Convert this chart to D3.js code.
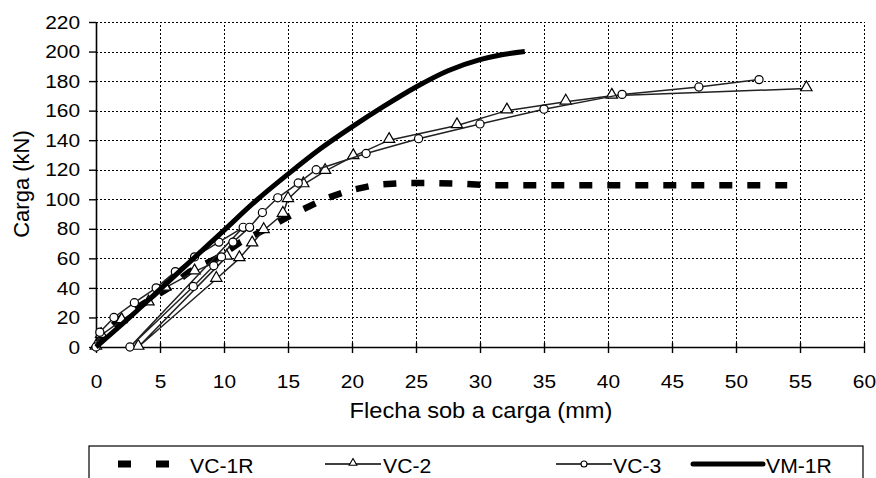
<!DOCTYPE html>
<html>
<head>
<meta charset="utf-8">
<script src="https://cdn.jsdelivr.net/npm/d3@7"></script>
<style>
  body { margin: 0; background: #fff; }
  svg { display: block; font-family: "Liberation Sans", Arial, sans-serif; }
</style>
</head>
<body>
<div id="chart"></div>
<script>
// tick labels
var xTicks = [0, 5, 10, 15, 20, 25, 30, 35, 40, 45, 50, 55, 60];
var yTicks = [0, 20, 40, 60, 80, 100, 120, 140, 160, 180, 200, 220];

// series [flecha mm, carga kN]
var vc1r = [[0,0],[0.6,9],[2,20],[4,31],[5.7,40],[7.3,51],[9.4,60],[11.3,71],[13.3,80],[15.4,90],
  [17.8,100],[19.8,106],[22,110],[24,111],[26,111],[28.5,110.5],[31,109.5],[35,109.5],[40,109.5],
  [45,109.5],[50,109.5],[54,109.5]];

var vc2 = [[0,0],[0.4,8],[2,18],[4.1,30],[5.4,40],[7.7,51],[10.2,61],[3.3,0],[9.4,46],[11.2,60],
  [12.2,70],[13.1,79],[14.6,90],[15,100],[16.2,110],[17.9,119],[20.1,129],[22.9,140],[28.2,150],
  [32.1,160],[36.7,166],[40.3,170],[55.5,175]];

var vc3 = [[0,0],[0.3,10],[1.4,20],[3,30],[4.7,40],[6.2,51],[7.7,61],[9.6,71],[11.5,81],[2.65,0],
  [7.6,41],[9.2,55],[9.8,61],[10.7,71],[12,81],[13,91],[14.2,101],[15.8,111],[17.2,120],[21.1,131],
  [25.2,141],[30,151],[35,161],[41.1,171],[47.1,176],[51.8,181]];

var vm1r = [[0,0],[2.5,19],[5,39],[7.5,59],[10,79],[12.5,99],[15,117],[17.5,134],[20,149],
  [22.5,163],[25,176],[27.5,187],[30,194.5],[31.6,197.7],[33.5,200]];

var legendNames = ["VC-1R", "VC-2", "VC-3", "VM-1R"];

var svgWidth = 876, svgHeight = 478;

var svg = d3.select("#chart").append("svg")
  .attr("width", svgWidth)
  .attr("height", svgHeight);

var x = d3.scaleLinear().domain([0, 60]).range([96, 864]);
var y = d3.scaleLinear().domain([0, 220]).range([347, 22]);

// dotted grid
svg.append("g").selectAll("line")
  .data(yTicks.slice(1))
  .enter().append("line")
  .attr("x1", x(0)).attr("x2", x(60))
  .attr("y1", d => Math.round(y(d)) + 0.5).attr("y2", d => Math.round(y(d)) + 0.5)
  .attr("stroke", "#000").attr("stroke-width", 1.2)
  .attr("stroke-dasharray", "2,2")
  .attr("shape-rendering", "crispEdges");

svg.append("g").selectAll("line")
  .data(xTicks.slice(1))
  .enter().append("line")
  .attr("x1", d => Math.round(x(d)) + 0.5).attr("x2", d => Math.round(x(d)) + 0.5)
  .attr("y1", y(0)).attr("y2", y(220))
  .attr("stroke", "#000").attr("stroke-width", 1.2)
  .attr("stroke-dasharray", "2,2")
  .attr("shape-rendering", "crispEdges");

// axes
var yAxis = svg.append("g")
  .attr("transform", `translate(${x(0)},0)`)
  .call(d3.axisLeft(y).tickValues(yTicks).tickSize(7).tickSizeOuter(0));

var xAxis = svg.append("g")
  .attr("transform", `translate(0,${y(0)})`)
  .call(d3.axisBottom(x).tickValues(xTicks).tickSize(6).tickSizeOuter(0));

[xAxis, yAxis].forEach(function(ax) {
  ax.select(".domain").attr("stroke", "#000").attr("stroke-width", 1.6);
  ax.selectAll(".tick line").attr("stroke", "#000").attr("stroke-width", 1.4);
  ax.selectAll(".tick text")
    .attr("fill", "#000")
    .style("font-size", "19px")
    .style("font-family", "Liberation Sans, Arial, sans-serif");
});
xAxis.selectAll(".tick line").attr("y1", -4).attr("y2", 6);
xAxis.selectAll(".tick text").attr("y", 28).attr("transform", "scale(1.1,1)");
yAxis.selectAll(".tick text").attr("x", -14.5).attr("transform", "scale(1.1,1)");

// axis titles
svg.append("g")
  .attr("transform", "translate(481,418) scale(1.1,1)")
  .append("text")
  .attr("text-anchor", "middle")
  .style("font-size", "21.5px")
  .text("Flecha sob a carga (mm)");

svg.append("g")
  .attr("transform", "translate(29,184) rotate(-90)")
  .append("text")
  .attr("text-anchor", "middle")
  .style("font-size", "22px")
  .text("Carga (kN)");

// lines
var line = d3.line().x(d => x(d[0])).y(d => y(d[1]));

svg.append("path").datum(vc1r)
  .attr("d", line).attr("fill", "none")
  .attr("stroke", "#000").attr("stroke-width", 6.5)
  .attr("stroke-dasharray", "13,15");

function thinSeries(data, shape) {
  svg.append("path").datum(data)
    .attr("d", line).attr("fill", "none")
    .attr("stroke", "#222").attr("stroke-width", 1.5);
  var sym = shape === "tri" ? d3.symbolTriangle : d3.symbolCircle;
  var size = shape === "tri" ? 55 : 52;
  svg.append("g").selectAll("path")
    .data(data)
    .enter().append("path")
    .attr("d", d3.symbol().type(sym).size(size))
    .attr("transform", d => `translate(${x(d[0])},${y(d[1]) - (shape === "tri" ? 1 : 0)})`)
    .attr("fill", "#fff").attr("stroke", "#000").attr("stroke-width", 1.2);
}
thinSeries(vc2, "tri");
thinSeries(vc3, "circ");

// VM-1R is a smooth curve
svg.append("path").datum(vm1r)
  .attr("d", d3.line().curve(d3.curveMonotoneX).x(d => x(d[0])).y(d => y(d[1])))
  .attr("fill", "none")
  .attr("stroke", "#000").attr("stroke-width", 5)
  .attr("stroke-linejoin", "round");

// legend
var legend = svg.append("g");
legend.append("rect")
  .attr("x", 89).attr("y", 446)
  .attr("width", 774).attr("height", 60)
  .attr("fill", "#fff").attr("stroke", "#000").attr("stroke-width", 1.2);

var ly = 464;
legend.append("line")
  .attr("x1", 118).attr("x2", 172).attr("y1", ly).attr("y2", ly)
  .attr("stroke", "#000").attr("stroke-width", 7).attr("stroke-dasharray", "13,25");

legend.append("line")
  .attr("x1", 325).attr("x2", 381).attr("y1", ly).attr("y2", ly)
  .attr("stroke", "#000").attr("stroke-width", 1.5);
legend.append("path")
  .attr("d", d3.symbol().type(d3.symbolTriangle).size(26))
  .attr("transform", `translate(353,${ly - 1})`)
  .attr("fill", "#fff").attr("stroke", "#000").attr("stroke-width", 1.1);

legend.append("line")
  .attr("x1", 556).attr("x2", 612).attr("y1", ly).attr("y2", ly)
  .attr("stroke", "#000").attr("stroke-width", 1.5);
legend.append("circle")
  .attr("cx", 584).attr("cy", ly).attr("r", 3)
  .attr("fill", "#fff").attr("stroke", "#000").attr("stroke-width", 1.1);

legend.append("line")
  .attr("x1", 693).attr("x2", 763).attr("y1", ly).attr("y2", ly)
  .attr("stroke", "#000").attr("stroke-width", 5).attr("stroke-linecap", "round");

var textX = [190, 383, 613, 766];
legend.selectAll("g.lbl")
  .data(legendNames)
  .enter().append("g")
  .attr("class", "lbl")
  .attr("transform", (d, i) => `translate(${textX[i]},473) scale(1.06,1)`)
  .append("text")
  .style("font-size", "20px")
  .text(d => d);
</script>
</body>
</html>
